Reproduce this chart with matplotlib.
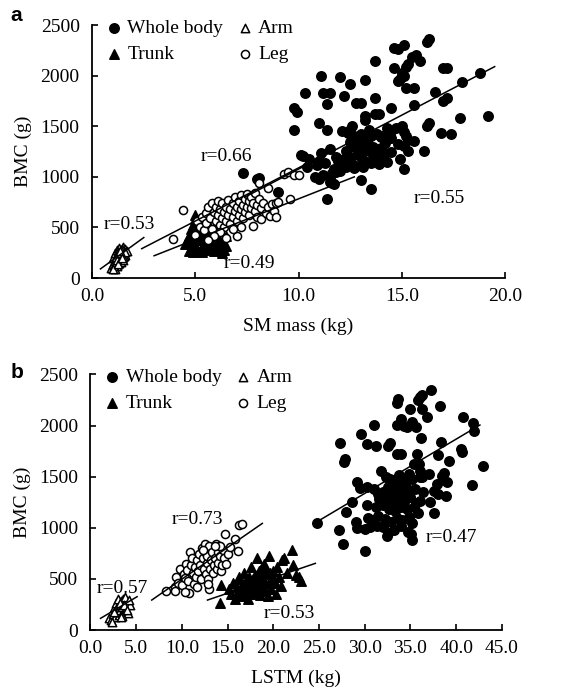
import numpy as np
import matplotlib
matplotlib.use("Agg")
import matplotlib.pyplot as plt

plt.rcParams["font.family"] = ["Liberation Serif", "DejaVu Serif"]

# ---------- panel a : BMC vs SM mass ----------
wb_a = [(16.3,2360),(16.2,2330),(15.1,2300),(14.6,2270),(14.8,2260),(15.7,2200),(15.5,2190),
        (13.7,2150),(15.9,2150),(15.3,2120),(15.2,2090),(17.0,2080),(17.2,2080),(14.6,2080),
        (18.8,2030),(15.0,2030),(11.1,2000),(15.1,2000),(12.0,1990),(14.9,1970),(13.2,1960),
        (14.8,1950),(17.9,1940),(12.5,1920),(15.2,1880),(15.6,1880),(16.6,1840),(11.2,1830),
        (11.5,1830),(10.3,1830),(12.2,1800),(13.7,1780),(17.2,1780),(17.0,1750),(12.8,1730),
        (13.0,1730),(11.4,1720),(15.6,1710),(9.8,1680),(14.5,1680),(9.9,1640),(13.7,1620),
        (13.9,1620),(19.2,1600),(13.2,1600),(17.8,1580),(13.2,1560),(11.0,1530),(16.3,1530),
        (12.6,1500),(15.0,1500),(16.2,1500),(14.3,1480),(14.7,1480),(9.8,1460),(11.4,1460),
        (13.4,1460),(12.1,1450),(12.5,1460),(14.5,1450),(15.1,1440),(12.4,1430),(16.9,1430),
        (17.4,1420),(13.0,1420),(13.8,1420),(14.2,1410),(12.7,1400),(13.5,1400),(14.0,1390),
        (15.2,1400),(12.9,1380),(13.1,1370),(14.5,1380),(13.3,1360),(15.3,1360),(15.6,1350),
        (12.5,1340),(12.8,1340),(14.2,1330),(13.0,1320),(14.8,1320),(15.1,1310),(12.7,1300),
        (13.6,1300),(14.0,1290),(11.5,1280),(13.2,1280),(12.3,1260),(13.4,1260),(14.5,1250),
        (15.3,1260),(16.1,1260),(11.1,1240),(13.0,1240),(13.8,1230),(14.2,1240),(12.9,1220),
        (14.0,1210),(10.2,1210),(10.1,1220),(11.8,1200),(12.5,1200),(13.6,1190),(10.5,1180),
        (12.2,1180),(13.1,1170),(14.9,1180),(11.0,1160),(11.9,1160),(13.2,1150),(13.7,1160),
        (12.0,1140),(14.3,1150),(11.3,1140),(12.6,1130),(13.5,1140),(13.9,1130),(10.9,1120),
        (12.8,1110),(10.4,1100),(12.3,1100),(12.7,1090),(13.1,1100),(15.1,1080),(11.7,1080),
        (12.0,1060),(11.8,1050),(7.3,1040),(11.6,1040),(11.2,1020),(10.8,1000),(11.5,1000),
        (8.1,990),(8.0,980),(11.0,980),(13.0,970),(11.5,950),(11.6,940),(11.7,930),(13.5,880),
        (9.0,850),(11.4,780)]
leg_a = [(3.9,385),(4.4,670),(5.0,430),(5.1,560),(5.2,500),(5.3,600),(5.4,470),(5.5,640),
         (5.5,540),(5.6,700),(5.7,590),(5.8,740),(5.8,480),(5.9,650),(6.0,700),(6.0,560),
         (6.1,760),(6.1,620),(6.2,520),(6.2,680),(6.3,590),(6.3,740),(6.4,650),(6.4,500),
         (6.5,700),(6.5,560),(6.6,770),(6.6,620),(6.7,680),(6.7,530),(6.8,740),(6.8,600),
         (6.9,800),(6.9,660),(7.0,700),(7.0,560),(7.0,420),(7.1,760),(7.1,620),(7.2,680),
         (7.2,820),(7.3,720),(7.3,590),(7.4,780),(7.4,650),(7.5,700),(7.5,830),(7.6,760),
         (7.6,620),(7.7,690),(7.7,800),(7.8,740),(7.8,510),(7.9,660),(7.9,840),(8.0,720),
         (8.0,600),(8.1,940),(8.1,780),(8.2,690),(8.2,580),(8.3,740),(8.4,640),(8.5,700),
         (8.5,890),(8.6,610),(8.7,730),(8.8,660),(8.9,600),(8.9,740),(9.0,750),(9.3,1030),
         (9.5,1050),(9.6,780),(9.8,1020),(10.0,1020),(6.2,450),(6.5,400),(5.9,420),(7.2,500),
         (6.8,480),(5.6,380)]
trunk_a = [(4.6,380),(4.7,420),(4.8,300),(4.8,480),(4.9,260),(4.9,360),(5.0,620),(5.0,410),
           (5.0,330),(5.1,280),(5.1,450),(5.2,380),(5.2,540),(5.3,310),(5.3,420),(5.4,350),
           (5.4,280),(5.5,470),(5.5,380),(5.6,320),(5.6,420),(5.7,360),(5.8,290),(5.8,450),
           (5.9,380),(6.0,330),(6.0,520),(6.1,410),(6.2,300),(6.2,460),(6.3,360),(6.4,280),
           (6.5,320),(6.5,420),(4.5,340),(5.0,580),(5.2,470),(5.7,500),(6.1,350),(4.9,520),
           (4.7,270),(5.3,260),(5.9,270),(6.3,250)]
arm_a = [(0.9,100),(1.0,140),(1.0,200),(1.1,170),(1.1,250),(1.2,120),(1.2,220),(1.2,280),
         (1.3,190),(1.3,150),(1.3,300),(1.4,240),(1.4,200),(1.4,160),(1.5,260),(1.5,310),
         (1.5,180),(1.6,230),(1.6,290),(1.7,270),(1.1,90),(1.25,260),(1.35,230),(1.45,290),
         (1.55,220),(1.05,120),(1.15,210),(1.2,180),(1.3,250),(1.4,280),(1.5,210),(1.6,260),
         (1.0,90),(1.25,140),(1.35,270),(1.45,200)]
# regression lines: (x0, x1), (y0, y1)
lines_a = [((0.4, 2.5), (90, 400)),
           ((2.4, 10.2), (290, 1110)),
           ((3.0, 12.7), (220, 1000)),
           ((7.4, 19.5), (800, 2090))]
r_a = [("r=0.53", 1.8, 530), ("r=0.66", 6.5, 1200), ("r=0.49", 7.6, 140), ("r=0.55", 16.8, 790)]

# ---------- panel b : BMC vs LSTM ----------
wb_b = [(37.3,2350),(36.3,2300),(36.0,2280),(35.8,2250),(33.6,2260),(33.5,2220),(38.2,2190),
        (35.0,2160),(36.3,2160),(34.0,2060),(35.2,2030),(36.8,2080),(40.7,2080),(41.8,2020),
        (41.9,1950),(31.0,2010),(33.5,2010),(34.3,2000),(34.6,1990),(35.6,1990),(29.6,1920),
        (36.2,1880),(27.3,1830),(30.2,1820),(31.2,1800),(32.6,1800),(32.8,1830),(38.3,1840),
        (40.5,1770),(40.6,1740),(33.5,1720),(34.0,1720),(35.7,1720),(38.0,1710),(39.2,1650),
        (27.8,1670),(27.7,1640),(35.4,1620),(35.9,1620),(42.9,1600),(36.1,1560),(34.8,1530),
        (38.7,1540),(38.4,1510),(31.8,1560),(32.3,1500),(32.8,1480),(33.5,1460),(33.0,1420),
        (34.2,1460),(35.2,1480),(36.3,1500),(37.9,1430),(39.0,1450),(41.7,1420),(29.2,1450),
        (30.3,1400),(31.0,1380),(31.5,1330),(32.0,1350),(32.5,1400),(33.2,1380),(33.8,1350),
        (34.5,1400),(35.5,1380),(36.4,1350),(37.6,1360),(38.0,1330),(38.9,1310),(29.5,1390),
        (28.6,1250),(31.6,1280),(32.4,1300),(33.1,1250),(33.6,1300),(34.3,1250),(34.9,1300),
        (35.6,1240),(36.1,1260),(37.1,1250),(30.2,1220),(31.2,1200),(32.0,1220),(32.7,1180),
        (33.3,1160),(34.0,1200),(34.6,1180),(35.4,1200),(35.8,1140),(37.6,1140),(28.0,1150),
        (29.0,1060),(30.4,1100),(30.9,1080),(31.5,1120),(32.2,1090),(32.9,1060),(33.5,1100),
        (34.1,1080),(34.8,1110),(35.2,1050),(29.2,1000),(30.0,990),(30.6,1010),(31.3,1020),
        (32.0,1010),(32.5,950),(33.2,980),(34.0,1020),(34.7,960),(27.2,980),(27.6,840),
        (30.0,770),(32.4,920),(35.1,940),(35.2,880),(24.8,1050),(36.0,1500),(37.0,1530),
        (33.8,1520),(34.2,1420),(33.0,1320),(32.6,1250),(34.6,1330),(33.8,1420)]
leg_b = [(8.3,380),(9.2,420),(9.3,380),(9.4,520),(9.6,460),(9.8,600),(10.0,440),(10.2,550),
         (10.3,510),(10.5,650),(10.6,590),(10.7,480),(10.8,360),(10.9,760),(11.0,640),(11.1,700),
         (11.2,560),(11.3,450),(11.4,620),(11.5,520),(11.6,680),(11.8,580),(11.9,740),(12.0,640),
         (12.1,500),(12.2,800),(12.3,700),(12.4,600),(12.5,840),(12.5,760),(12.6,550),(12.7,660),
         (12.8,720),(12.9,500),(13.0,820),(13.0,400),(13.1,600),(13.2,680),(13.3,760),(13.4,560),
         (13.5,640),(13.6,700),(13.7,840),(13.8,600),(13.9,760),(14.0,660),(14.1,820),(14.2,720),
         (14.3,580),(14.4,640),(14.5,780),(14.6,700),(14.7,940),(14.8,650),(15.0,740),(15.3,810),
         (15.8,890),(16.1,770),(16.3,1030),(16.6,1040),(11.7,420),(12.9,450),(10.3,370),
         (14.2,820),(13.6,820),(12.3,780)]
trunk_b = [(14.2,260),(14.3,440),(15.2,400),(15.4,350),(15.6,460),(15.8,300),(16.0,420),
           (16.1,370),(16.3,500),(16.5,330),(16.6,430),(16.8,560),(16.9,380),(17.0,470),
           (17.2,300),(17.3,520),(17.5,410),(17.6,620),(17.8,450),(17.9,350),(18.0,540),
           (18.1,400),(18.2,700),(18.3,480),(18.5,340),(18.6,600),(18.7,440),(18.8,520),
           (18.9,380),(19.0,650),(19.1,460),(19.3,560),(19.4,330),(19.5,720),(19.6,480),
           (19.8,400),(20.0,580),(20.2,460),(20.4,620),(20.6,520),(20.8,430),(21.0,680),
           (21.2,700),(21.5,560),(22.0,780),(22.2,640),(22.5,540),(22.8,520),(23.0,480),
           (19.2,600),(17.4,360),(18.4,580),(16.2,520),(20.3,350),(17.0,340),(18.0,430),
           (19.0,420),(20.0,500),(17.8,500),(18.6,400),(19.6,560),(16.8,450)]
arm_b = [(2.0,120),(2.3,100),(2.5,160),(2.6,220),(2.7,130),(2.8,260),(2.9,180),(3.0,240),
         (3.1,150),(3.2,200),(3.3,280),(3.4,170),(3.5,230),(3.6,300),(3.7,190),(3.8,260),
         (3.9,210),(4.0,250),(4.1,170),(4.3,240),(2.4,80),(3.0,300),(3.5,140),(3.8,320),
         (4.2,290),(2.6,180),(3.2,260),(3.7,240),(3.3,130),(4.0,200)]
lines_b = [((1.1, 5.1), (114, 326)),
           ((6.7, 18.8), (293, 1043)),
           ((12.8, 24.6), (293, 652)),
           ((24.8, 42.6), (1060, 2005))]
r_b = [("r=0.57", 3.5, 410), ("r=0.73", 11.7, 1080), ("r=0.53", 21.7, 165), ("r=0.47", 39.5, 905)]


def panel(ax, wb, trunk, arm, leg, lines, rlabels, xmax, xlabel):
    for pts, m, fc, lab, s in [(wb, "o", "black", "Whole body", 46),
                               (trunk, "^", "black", "Trunk", 46),
                               (arm, "^", "white", "Arm", 36),
                               (leg, "o", "white", "Leg", 34)]:
        p = np.array(pts)
        ax.scatter(p[:, 0], p[:, 1], marker=m, s=s, facecolors=fc, edgecolors="black",
                   linewidths=1.1, label=lab, zorder=3)
    for xs, ys in lines:
        ax.plot(xs, ys, color="black", lw=1.1, zorder=4)
    for txt, x, y in rlabels:
        ax.text(x, y, txt, ha="center", va="center", fontsize=14)
    ax.set_xlim(0, xmax)
    ax.set_ylim(0, 2500)
    ax.set_xticks(np.arange(0, xmax + 0.1, 5))
    ax.set_xticklabels([f"{v:.1f}" for v in np.arange(0, xmax + 0.1, 5)])
    ax.set_yticks(range(0, 2501, 500))
    ax.tick_params(direction="in", length=4, width=1.2, labelsize=14)
    ax.tick_params(axis="y", pad=9)
    ax.tick_params(axis="x", pad=7)
    ax.spines["top"].set_visible(False)
    ax.spines["right"].set_visible(False)
    for sp in ("left", "bottom"):
        ax.spines[sp].set_linewidth(1.3)
    ax.set_xlabel(xlabel, fontsize=14, labelpad=9)
    ax.set_ylabel("BMC (g)", fontsize=14, labelpad=6)
    h, l = ax.get_legend_handles_labels()
    ax.legend(h, l, ncol=2, frameon=False, loc="upper left", bbox_to_anchor=(0.01, 1.055),
              fontsize=14, handletextpad=0.2, columnspacing=0.6, labelspacing=0.45,
              handlelength=1.0, borderaxespad=0)


fig = plt.figure(figsize=(5.69, 6.89), dpi=100)
ax1 = fig.add_axes([0.162, 0.5965, 0.7255, 0.367])
ax2 = fig.add_axes([0.159, 0.0856, 0.723, 0.371])
panel(ax1, wb_a, trunk_a, arm_a, leg_a, lines_a, r_a, 20, "SM mass (kg)")
panel(ax2, wb_b, trunk_b, arm_b, leg_b, lines_b, r_b, 45, "LSTM (kg)")
fig.text(0.018, 0.977, "a", fontsize=15, fontweight="bold", family="Liberation Sans", va="center")
fig.text(0.018, 0.459, "b", fontsize=15, fontweight="bold", family="Liberation Sans", va="center")

fig.savefig("out.png", dpi=100)
